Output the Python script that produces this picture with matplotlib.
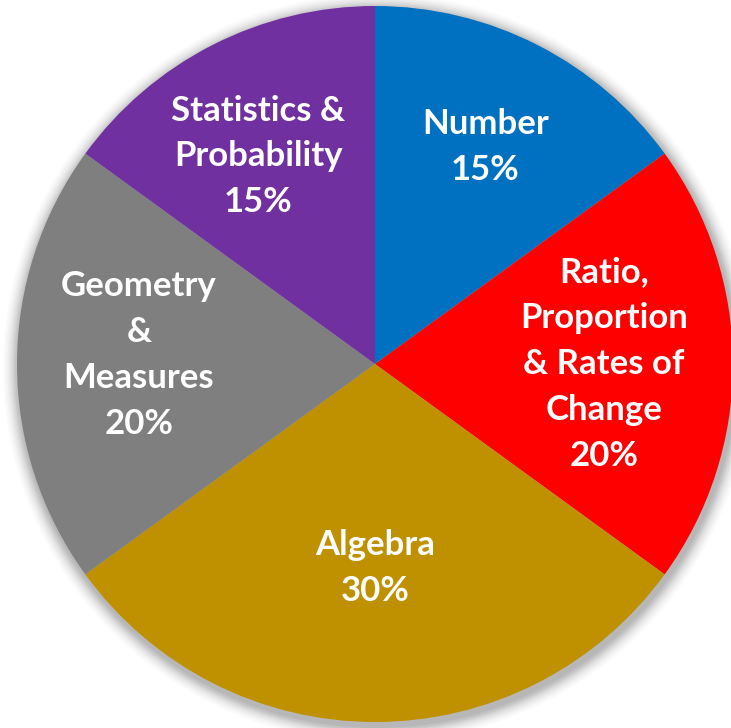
import numpy as np
import matplotlib; matplotlib.use("Agg")
import matplotlib.pyplot as plt
from matplotlib.patches import Circle

# --- data ---
topics = ["Number", "Ratio,\nProportion\n& Rates of\nChange", "Algebra",
          "Geometry\n&\nMeasures", "Statistics &\nProbability"]
shares = [15, 20, 30, 20, 15]
colors = ["#0070C0", "#FF0000", "#BF9000", "#7F7F7F", "#7030A0"]
label_r = [0.68, 0.64, 0.57, 0.66, 0.665]     # fraction of radius for label centre
label_da = [0.0, 0.0, 0.0, -2.2, 2.3]          # small angle nudges (deg)

W, H = 731, 728
CX, CY, R = 375, -364, 358

fig = plt.figure(figsize=(W/100, H/100), dpi=100)
ax = fig.add_axes([0, 0, 1, 1])
ax.set_xlim(0, W); ax.set_ylim(-H, 0); ax.set_aspect("equal"); ax.axis("off")

# soft shadow around the pie
for i, a in enumerate(np.linspace(0.05, 0.012, 10)):
    ax.add_patch(Circle((CX + 2, CY - 4), R + 2 + i*1.6, fc="#000000", ec="none", alpha=a, zorder=0))

wedges, _ = ax.pie(shares, colors=colors, startangle=90, counterclock=False,
                   center=(CX, CY), radius=R, frame=True,
                   wedgeprops=dict(linewidth=0, zorder=2))
ax.set_xlim(0, W); ax.set_ylim(-H, 0); ax.axis("off")

for w, t, s, rf, da in zip(wedges, topics, shares, label_r, label_da):
    mid = np.deg2rad((w.theta1 + w.theta2) / 2 + da)
    x = CX + rf*R*np.cos(mid); y = CY + rf*R*np.sin(mid)
    ax.text(x, y, f"{t}\n{s}%", ha="center", va="center", color="white",
            fontsize=25, fontweight="bold", family="Lato", linespacing=1.53, zorder=3)

fig.savefig("out.png", dpi=100)
